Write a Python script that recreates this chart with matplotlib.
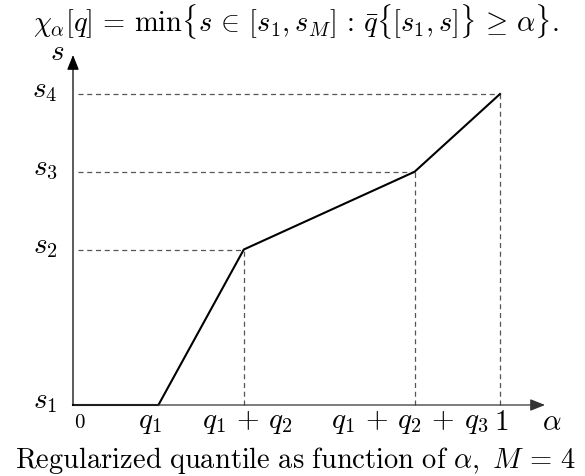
import numpy as np
import matplotlib
matplotlib.use('Agg')
import matplotlib.pyplot as plt

plt.rcParams['mathtext.fontset'] = 'cm'

# ─── Data ────────────────────────────────────────────────
q_vals = [0.2, 0.2, 0.4, 0.2]          # q1..q4
s_vals = [0.0, 2.0, 3.0, 4.0]          # s1..s4
x_labels = ['$0$', r'$q_1$', r'$q_1\,+\,q_2$', r'$q_1\,+\,q_2\,+\,q_3$', '$1$']
y_labels = ['$s_1$', '$s_2$', '$s_3$', '$s_4$']

alpha_knots = np.concatenate([[0.0], np.cumsum(q_vals)])     # 0, q1, q1+q2, ...
curve_x = alpha_knots
curve_y = np.concatenate([[s_vals[0]], s_vals])

# ─── Layout (pixels) ─────────────────────────────────────
W, H, DPI = 585, 476, 100
x0_px, x1_px = 73, 500      # alpha = 0, alpha = 1
y0_px, yM_px = 405, 94      # s1, s4 (from top)
PT = 72 / DPI               # px -> points

xs = (x1_px - x0_px) / 1.0
ys = (y0_px - yM_px) / (s_vals[-1] - s_vals[0])

fig = plt.figure(figsize=(W / DPI, H / DPI), dpi=DPI)
ax = fig.add_axes([0, 0, 1, 1])
ax.set_xlim(-x0_px / xs, (W - x0_px) / xs)
ax.set_ylim(s_vals[0] - (H - y0_px) / ys, s_vals[0] + y0_px / ys)
ax.set_axis_off()

# ─── Axes with arrows ────────────────────────────────────
x_end = (545 - x0_px) / xs
y_end = s_vals[0] + (y0_px - 55) / ys
arrow = dict(arrowstyle='-|>,head_length=0.75,head_width=0.3',
             color='black', lw=0.9, shrinkA=0, shrinkB=0, mutation_scale=12)
ax.annotate('', xy=(x_end, s_vals[0]), xytext=(0, s_vals[0]),
            arrowprops=dict(arrow, color='#333333'))
ax.annotate('', xy=(0, y_end), xytext=(0, s_vals[0]), arrowprops=arrow)

# ─── Dashed guide lines ──────────────────────────────────
dash = dict(color='#555555', lw=0.9, ls=(0, (4, 3)))
for a, s in zip(alpha_knots[2:], s_vals[1:]):
    ax.plot([5 / xs, a], [s, s], **dash)
    ax.plot([a, a], [s_vals[0], s], **dash)

# ─── Quantile curve ──────────────────────────────────────
ax.plot(curve_x, curve_y, color='black', lw=1.5, solid_joinstyle='miter')

# ─── Labels ──────────────────────────────────────────────
fs = 21
y_off = -17 * PT
x_offsets = [7, -9, 4, -5, 1]
x_sizes = [15, fs, fs, fs, fs]
for a, lab, dx, sz in zip(alpha_knots, x_labels, x_offsets, x_sizes):
    ax.annotate(lab, xy=(a, s_vals[0]), xytext=(dx * PT, y_off),
                textcoords='offset points', ha='center', va='center', fontsize=sz)
ax.annotate(r'$\alpha$', xy=(x_end, s_vals[0]), xytext=(-3 * PT, y_off),
            textcoords='offset points', ha='left', va='center', fontsize=fs)

for s, lab in zip(s_vals, y_labels):
    ax.annotate(lab, xy=(0, s), xytext=(-28 * PT, 4 * PT), textcoords='offset points',
                ha='center', va='center', fontsize=fs)
ax.annotate('$s$', xy=(0, y_end), xytext=(-16 * PT, 3 * PT), textcoords='offset points',
            ha='center', va='center', fontsize=fs)

fig.text(296 / W, 1 - 2 / H,
         r'$\chi_\alpha[q] \,=\, \min\{s \,\in\, [s_1, s_M] \,:\, '
         r'\bar{q}\{[s_1, s]\} \,\geq\, \alpha\}.$',
         ha='center', va='top', fontsize=20.5)
fig.text(295 / W, 1 - 460 / H,
         r'$\mathrm{Regularized\ quantile\ as\ function\ of\ }\alpha,\ M \,=\, 4$',
         ha='center', va='center', fontsize=20.5)

fig.savefig('out.png', dpi=DPI)
